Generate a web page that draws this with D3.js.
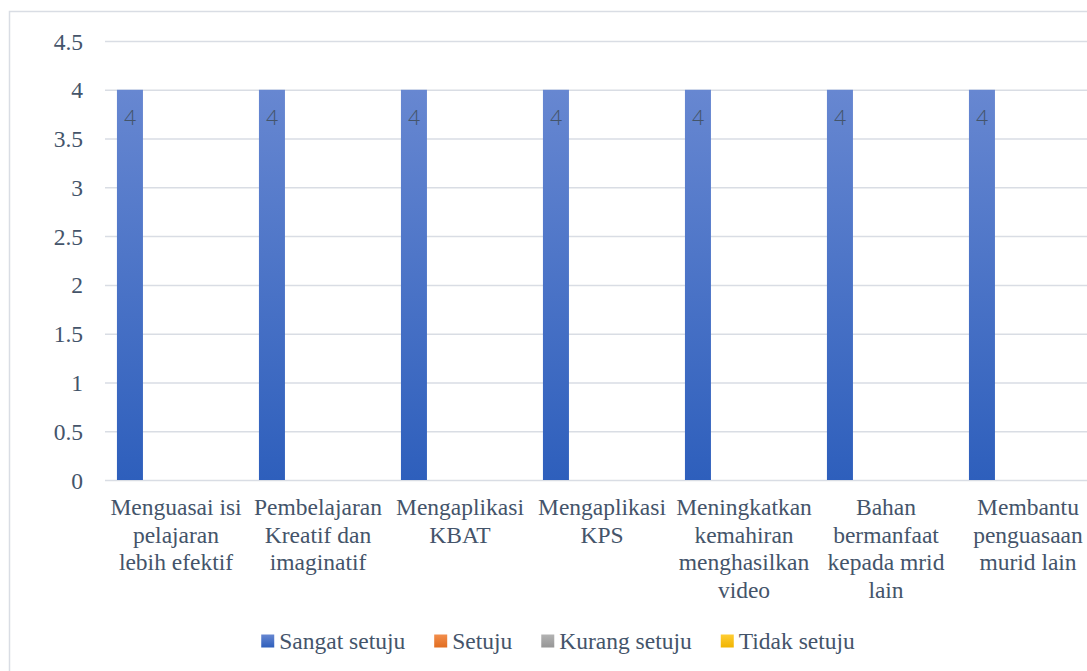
<!DOCTYPE html>
<html>
<head>
<meta charset="utf-8">
<script src="https://cdn.jsdelivr.net/npm/d3@7"></script>
<style>
  html, body { margin: 0; padding: 0; background: #fff; }
  svg { display: block; }
</style>
</head>
<body>
<svg id="chart" width="1087" height="671"></svg>
<script>
const categories = [
  "Menguasai isi pelajaran lebih efektif",
  "Pembelajaran Kreatif dan imaginatif",
  "Mengaplikasi KBAT",
  "Mengaplikasi KPS",
  "Meningkatkan kemahiran menghasilkan video",
  "Bahan bermanfaat kepada mrid lain",
  "Membantu penguasaan murid lain"
];
const seriesNames = ["Sangat setuju", "Setuju", "Kurang setuju", "Tidak setuju"];
const sangatSetuju = [4, 4, 4, 4, 4, 4, 4];
const setuju = [0, 0, 0, 0, 0, 0, 0];
const kurangSetuju = [0, 0, 0, 0, 0, 0, 0];
const tidakSetuju = [0, 0, 0, 0, 0, 0, 0];
const yTicks = [0, 0.5, 1, 1.5, 2, 2.5, 3, 3.5, 4, 4.5];

const seriesValues = [sangatSetuju, setuju, kurangSetuju, tidakSetuju];
const colorsTop = ["#6787d1", "#f28e4c", "#b3b3b3", "#ffcd33"];
const colorsBottom = ["#2e5fbc", "#e16d20", "#969696", "#f0b400"];
const textColor = "#44546a";
const serif = "Liberation Serif";
const fontSize = "23.5px";

const svg = d3.select("#chart");
const defs = svg.append("defs");
seriesNames.forEach((s, i) => {
  const g = defs.append("linearGradient").attr("id", "grad" + i)
    .attr("x1", 0).attr("y1", 0).attr("x2", 0).attr("y2", 1);
  g.append("stop").attr("offset", "0%").attr("stop-color", colorsTop[i]);
  g.append("stop").attr("offset", "100%").attr("stop-color", colorsBottom[i]);
});

// chart area border
svg.append("rect").attr("x", 9.5).attr("y", 11.5).attr("width", 1100).attr("height", 700)
  .attr("fill", "none").attr("stroke", "#d9dde4").attr("stroke-width", 1.5);

const plot = { left: 105, right: 1099, top: 41, bottom: 480 };

const x0 = d3.scaleBand().domain(categories).range([plot.left, plot.right]).padding(0);
const x1 = d3.scaleBand().domain(seriesNames).range([0, x0.bandwidth()])
  .paddingInner(0.153).paddingOuter(0.389);
const y = d3.scaleLinear().domain([0, 4.5]).range([plot.bottom, plot.top]);

// gridlines + y tick labels
const yAxis = d3.axisLeft(y).tickValues(yTicks).tickSize(-(plot.right - plot.left)).tickPadding(22)
  .tickFormat(d => d3.format("")(d));
const ga = svg.append("g").attr("transform", `translate(${plot.left},0)`).call(yAxis);
ga.attr("font-family", null).attr("font-size", null);
ga.select(".domain").remove();
ga.selectAll(".tick line").attr("stroke", "#d9dde4").attr("stroke-width", 1.5);
ga.selectAll(".tick text").attr("fill", textColor)
  .style("font-family", serif).style("font-size", fontSize)
  .attr("dy", "0.34em");

// bars
const groups = svg.append("g").selectAll("g").data(categories).join("g")
  .attr("transform", d => `translate(${x0(d)},0)`);
groups.selectAll("rect")
  .data((c, ci) => seriesNames.map((s, si) => ({ s, si, v: seriesValues[si][ci] })))
  .join("rect")
  .attr("x", d => x1(d.s))
  .attr("width", x1.bandwidth())
  .attr("y", d => y(d.v))
  .attr("height", d => y(0) - y(d.v))
  .attr("fill", d => `url(#grad${d.si})`);

// data labels (only the series with non-zero values)
groups.selectAll("text.lbl")
  .data((c, ci) => seriesNames.map((s, si) => ({ s, si, v: seriesValues[si][ci] })).filter(d => d.v > 0))
  .join("text").attr("class", "lbl")
  .attr("x", d => x1(d.s) + x1.bandwidth() / 2)
  .attr("y", d => y(d.v) + 35)
  .attr("text-anchor", "middle")
  .style("font-family", "Open Sans")
  .style("font-weight", 300)
  .style("font-size", "21px")
  .attr("fill", textColor)
  .text(d => d.v);

// category labels with wrapping
const measure = svg.append("text").style("font-family", serif).style("font-size", fontSize).attr("visibility", "hidden");
function wrap(str, maxW) {
  const words = str.split(" ");
  const lines = [];
  let cur = "";
  words.forEach(w => {
    const t = cur ? cur + " " + w : w;
    measure.text(t);
    if (measure.node().getComputedTextLength() > maxW && cur) {
      lines.push(cur); cur = w;
    } else cur = t;
  });
  if (cur) lines.push(cur);
  return lines;
}
const catG = svg.append("g");
categories.forEach(c => {
  const lines = wrap(c, 137.5);
  const t = catG.append("text")
    .attr("text-anchor", "middle")
    .style("font-family", serif).style("font-size", fontSize).attr("fill", textColor);
  lines.forEach((l, i) => {
    t.append("tspan").attr("x", x0(c) + x0.bandwidth() / 2).attr("y", plot.bottom + 35 + i * 27.5).text(l);
  });
});
measure.remove();

// legend
const legend = svg.append("g");
const legendCenter = 558, legendY = 641, sw = 13, gapSwText = 5, gapItems = 29;
const items = seriesNames.map((s, i) => {
  const g = legend.append("g");
  g.append("rect").attr("width", sw).attr("height", sw).attr("y", -sw / 2).attr("fill", `url(#grad${i})`);
  const t = g.append("text").attr("x", sw + gapSwText).attr("dy", "0.34em")
    .style("font-family", serif).style("font-size", fontSize).attr("fill", textColor).text(s);
  const w = sw + gapSwText + t.node().getComputedTextLength();
  return { g, w };
});
const total = d3.sum(items, d => d.w) + gapItems * (items.length - 1);
let cx = legendCenter - total / 2;
items.forEach(it => {
  it.g.attr("transform", `translate(${cx},${legendY})`);
  cx += it.w + gapItems;
});
</script>
</body>
</html>
